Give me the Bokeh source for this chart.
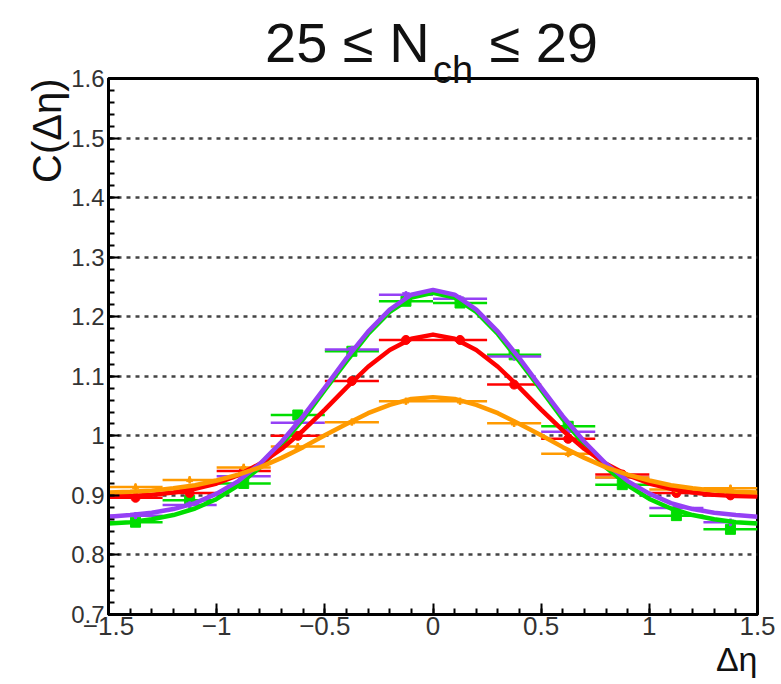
from bokeh.plotting import figure
from bokeh.layouts import column
from bokeh.models import (SingleIntervalTicker, CustomJSTickFormatter, Title, Div,
                          ColumnDataSource, Range1d)
from bokeh.embed import file_html
from bokeh.resources import INLINE

# ---------------- data ----------------
bin_centers = [-1.375, -1.125, -0.875, -0.625, -0.375, -0.125,
               0.125, 0.375, 0.625, 0.875, 1.125, 1.375]
bin_half_width = 0.125
y_err = 0.006

green_pts = [0.855, 0.892, 0.920, 1.035, 1.142, 1.226, 1.223, 1.136, 1.016, 0.918, 0.866, 0.843]
purple_pts = [0.866, 0.884, 0.932, 1.022, 1.145, 1.237, 1.230, 1.133, 1.007, 0.930, 0.879, 0.855]
red_pts = [0.896, 0.904, 0.941, 1.000, 1.092, 1.161, 1.161, 1.086, 0.995, 0.935, 0.904, 0.900]
orange_pts = [0.914, 0.926, 0.947, 0.982, 1.023, 1.058, 1.058, 1.021, 0.970, 0.930, 0.910, 0.912]

fit_x = [-1.5, -1.4, -1.3, -1.2, -1.1, -1.0, -0.9, -0.8, -0.7, -0.6, -0.5, -0.4, -0.3, -0.2, -0.1, 0.0,
         0.1, 0.2, 0.3, 0.4, 0.5, 0.6, 0.7, 0.8, 0.9, 1.0, 1.1, 1.2, 1.3, 1.4, 1.5]
green_fit = [0.853, 0.855, 0.860, 0.867, 0.878, 0.894, 0.917, 0.947, 0.985, 1.028, 1.077, 1.125, 1.171, 1.208, 1.232, 1.240,
             1.232, 1.208, 1.171, 1.125, 1.077, 1.028, 0.985, 0.947, 0.917, 0.894, 0.878, 0.867, 0.860, 0.855, 0.853]
purple_fit = [0.864, 0.867, 0.871, 0.877, 0.887, 0.903, 0.924, 0.953, 0.990, 1.033, 1.081, 1.130, 1.175, 1.212, 1.237, 1.245,
              1.237, 1.212, 1.175, 1.130, 1.081, 1.033, 0.990, 0.953, 0.924, 0.903, 0.887, 0.877, 0.871, 0.867, 0.864]
red_fit = [0.898, 0.899, 0.901, 0.905, 0.911, 0.920, 0.934, 0.953, 0.978, 1.009, 1.044, 1.081, 1.116, 1.144, 1.163, 1.170,
           1.163, 1.144, 1.116, 1.081, 1.044, 1.009, 0.978, 0.953, 0.934, 0.920, 0.911, 0.905, 0.901, 0.899, 0.898]
orange_fit = [0.905, 0.906, 0.908, 0.912, 0.917, 0.925, 0.935, 0.947, 0.963, 0.981, 1.001, 1.020, 1.038, 1.052, 1.062, 1.065,
              1.062, 1.052, 1.038, 1.020, 1.001, 0.981, 0.963, 0.947, 0.935, 0.925, 0.917, 0.912, 0.908, 0.906, 0.905]

title_main = "25 \u2264 N"
title_sub = "ch"
title_tail = "\u2264 29"
y_title = "C(\u0394\u03b7)"
x_title = "\u0394\u03b7"

# ---------------- styles ----------------
GREEN = "#00dd00"
PURPLE = "#9540f5"
RED = "#ff0000"
ORANGE = "#ff9a00"
FONT = "Liberation Sans"
W, H = 781, 684

p = figure(width=W, height=H, x_range=Range1d(-1.5, 1.5), y_range=Range1d(0.7, 1.6),
           output_backend="svg", toolbar_location=None, title=None,
           min_border_left=108, min_border_right=24, min_border_top=78, min_border_bottom=70)
p.background_fill_color = "white"
p.border_fill_color = "white"
p.outline_line_color = "black"
p.outline_line_width = 3

xt = SingleIntervalTicker(interval=0.5, num_minor_ticks=5)
yt = SingleIntervalTicker(interval=0.1, num_minor_ticks=5)
fmt = CustomJSTickFormatter(code="var v = Math.round(tick*10)/10; return v.toString().replace('-', '\u2212');")

xa = p.xaxis[0]
ya = p.yaxis[0]
for ax, tk, fs, so in ((xa, xt, "26px", 2), (ya, yt, "24px", 4)):
    ax.ticker = tk
    ax.formatter = fmt
    ax.axis_line_width = 3
    ax.axis_line_color = "black"
    ax.major_tick_in = 11
    ax.major_tick_out = 0
    ax.minor_tick_in = 6
    ax.minor_tick_out = 0
    ax.major_tick_line_width = 2
    ax.minor_tick_line_width = 2
    ax.major_tick_line_color = "black"
    ax.minor_tick_line_color = "black"
    ax.major_label_text_font = FONT
    ax.major_label_text_font_size = fs
    ax.major_label_text_color = "#333333"
    ax.major_label_standoff = so

p.xgrid.visible = False
p.ygrid.ticker = yt
p.ygrid.grid_line_color = "#444444"
p.ygrid.grid_line_width = 2.5
p.ygrid.grid_line_dash = "4 5"

series = [
    (green_pts, GREEN, "square", 10),
    (purple_pts, PURPLE, "inverted_triangle", 7),
    (red_pts, RED, "circle", 9),
    (orange_pts, ORANGE, "triangle", 6),
]
for vals, col, mk, sz in series:
    src = ColumnDataSource(dict(
        x=bin_centers, y=vals,
        x0=[c - bin_half_width for c in bin_centers],
        x1=[c + bin_half_width for c in bin_centers],
        y0=[v - y_err for v in vals], y1=[v + y_err for v in vals]))
    p.segment(x0="x0", y0="y", x1="x1", y1="y", source=src, line_color=col, line_width=2.5)
    p.segment(x0="x", y0="y0", x1="x", y1="y1", source=src, line_color=col, line_width=2.5)
    p.scatter(x="x", y="y", source=src, marker=mk, size=sz, fill_color=col, line_color=col)

for fit, col in ((green_fit, GREEN), (red_fit, RED), (purple_fit, PURPLE), (orange_fit, ORANGE)):
    p.line(fit_x, fit, line_color=col, line_width=4.5, line_join="round")

p.add_layout(Title(text=y_title, align="right", text_font=FONT, text_font_size="40px",
                   text_font_style="normal", text_color="#111111", standoff=0), "left")
p.add_layout(Title(text=x_title, align="right", text_font=FONT, text_font_size="34px",
                   text_font_style="normal", text_color="#111111", standoff=0), "below")

# ---------- title overlay (HTML text, with a real subscript) ----------
span = "position:absolute;white-space:nowrap;line-height:1;font-family:'Liberation Sans';color:#111;"
title_html = (
    '<div style="position:relative;width:781px;height:100px;">'
    f'<span style="{span}left:265px;top:15px;font-size:56px;">{title_main}</span>'
    f'<span style="{span}left:433px;top:51px;font-size:38px;">{title_sub}</span>'
    f'<span style="{span}right:183px;top:15px;font-size:56px;">{title_tail}</span>'
    '</div>'
)
title_div = Div(text=title_html, width=W, height=100, margin=0,
                styles={"position": "absolute", "top": "0px", "left": "0px", "z-index": "10",
                        "pointer-events": "none"})

layout = column(title_div, p, spacing=0)
open("out.html", "w").write(file_html(layout, INLINE))
